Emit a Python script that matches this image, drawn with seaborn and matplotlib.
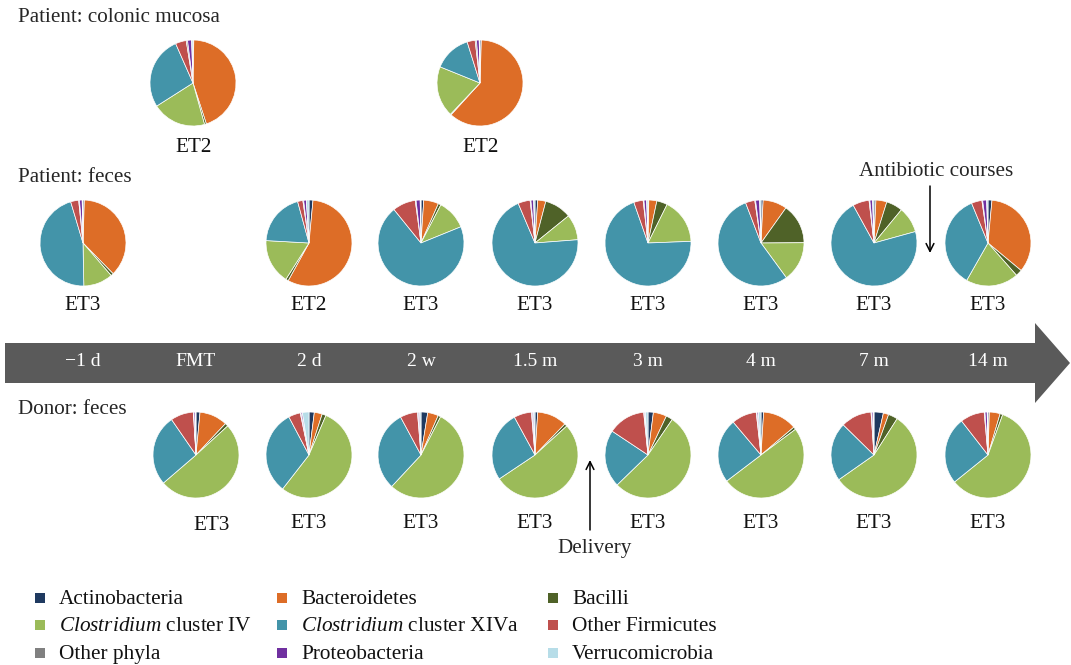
import numpy as np
import pandas as pd
import matplotlib
matplotlib.use("Agg")
import matplotlib.pyplot as plt
import seaborn as sns
from matplotlib.patches import Polygon, Rectangle

# ---------------- data ----------------
groups = ["Actinobacteria", "Bacteroidetes", "Bacilli",
          "Clostridium cluster IV", "Clostridium cluster XIVa",
          "Other Firmicutes", "Other phyla", "Proteobacteria", "Verrucomicrobia"]
legend_labels = ["Actinobacteria", "Bacteroidetes", "Bacilli",
                 r"$\mathit{Clostridium}$ cluster IV",
                 r"$\mathit{Clostridium}$ cluster XIVa",
                 "Other Firmicutes", "Other phyla", "Proteobacteria", "Verrucomicrobia"]
timepoints = ["\u22121 d", "FMT", "2 d", "2 w", "1.5 m", "3 m", "4 m", "7 m", "14 m"]

# Patient: colonic mucosa (two biopsies)
mucosa_labels = ["ET2", "ET2"]
mucosa_a = [0.3, 44, 0.7, 20, 27, 4, 0.5, 1.5, 0.5]
mucosa_b = [0.5, 61, 0.3, 19, 14, 3, 0.5, 1.0, 0.3]

# Patient: feces
patient_times = ["\u22121 d", "2 d", "2 w", "1.5 m", "3 m", "4 m", "7 m", "14 m"]
patient_labels = ["ET3", "ET2", "ET3", "ET3", "ET3", "ET3", "ET3", "ET3"]
p_m1d = [0.5, 37, 1, 11, 45.5, 3, 0.3, 1.0, 0.3]
p_2d = [1.5, 57, 1, 17, 20, 2, 0.3, 1.0, 1.0]
p_2w = [1.0, 5.5, 1, 11, 69, 8.5, 0.3, 1.5, 0.3]
p_15m = [1.0, 3, 10, 9.5, 69, 4.5, 0.3, 1.0, 0.5]
p_3m = [0.3, 3, 4, 17, 70, 3.5, 0.3, 1.0, 0.5]
p_4m = [0.8, 9, 15, 15, 54, 3.5, 0.3, 1.5, 0.5]
p_7m = [0.7, 4, 6, 9.5, 69.5, 6, 0.3, 1.0, 0.5]
p_14m = [1.5, 35, 2.5, 20, 36, 4, 0.3, 1.5, 0.5]

# Donor: feces
donor_times = ["FMT", "2 d", "2 w", "1.5 m", "3 m", "4 m", "7 m", "14 m"]
donor_labels = ["ET3"] * 8
d_fmt = [1.5, 10.5, 1.2, 50.5, 26.7, 8.6, 0.2, 0.5, 0.3]
d_2d = [2.0, 3, 1.5, 54.5, 32, 4.5, 0.3, 0.5, 2.5]
d_2w = [2.5, 4, 1.0, 54, 30, 6.5, 0.3, 0.5, 0.5]
d_15m = [1.0, 11, 1.0, 51.5, 26, 6.5, 0.3, 0.5, 0.5]
d_3m = [2.0, 5, 2.5, 53, 21.5, 14, 0.3, 0.3, 1.0]
d_4m = [1.0, 13, 1.0, 50.5, 24.5, 9.5, 0.3, 0.5, 1.0]
d_7m = [3.5, 2, 3.5, 56, 22, 11.5, 0.3, 0.5, 0.3]
d_14m = [0.5, 4, 1.0, 58, 25, 9, 0.3, 0.8, 0.3]

patient_vals = [p_m1d, p_2d, p_2w, p_15m, p_3m, p_4m, p_7m, p_14m]
donor_vals = [d_fmt, d_2d, d_2w, d_15m, d_3m, d_4m, d_7m, d_14m]

# ---------------- style ----------------
sns.set_theme(style="white")
plt.rcParams["font.family"] = ["Liberation Serif", "DejaVu Serif"]
plt.rcParams["mathtext.fontset"] = "custom"
plt.rcParams["mathtext.rm"] = "Liberation Serif"
plt.rcParams["mathtext.it"] = "Liberation Serif:italic"

colors = sns.color_palette(["#1f3a60", "#dd6d27", "#4f6228", "#9bbb59", "#4394a9",
                            "#bf504d", "#808080", "#7030a0", "#b7dde8"])
palette = dict(zip(groups, colors))

W, H = 1071, 665
fig = plt.figure(figsize=(W / 100, H / 100), dpi=100)
ax = fig.add_axes([0, 0, 1, 1])

def Y(y):
    return H - y

# layout (pixel positions)
time_x = dict(zip(timepoints, [83, 196, 309, 421, 535, 648, 761, 874, 988]))
R = 43
mucosa_x = [193, 480]
row_mucosa_y, row_patient_y, row_donor_y = 83, 243, 455
FS = 15.2

def draw_pie(vals, cx, cy, label, lx=None, ly=None):
    df = pd.DataFrame({"group": groups, "value": vals})
    ax.pie(df["value"], colors=[palette[g] for g in df["group"]],
           startangle=90, counterclock=False, center=(cx, Y(cy)), radius=R,
           wedgeprops=dict(linewidth=0.5, edgecolor="white"), frame=True)
    ax.text(cx if lx is None else lx, Y(ly), label,
            ha="center", va="center", fontsize=FS, color="#111111")

# mucosa
for vals, x, lab in zip([mucosa_a, mucosa_b], mucosa_x, mucosa_labels):
    draw_pie(vals, x, row_mucosa_y, lab, lx=x + 1, ly=147)

# patient feces
for vals, t, lab in zip(patient_vals, patient_times, patient_labels):
    draw_pie(vals, time_x[t], row_patient_y, lab, ly=306)

# donor feces
for vals, t, lab in zip(donor_vals, donor_times, donor_labels):
    x = time_x[t]
    lx = 212 if t == "FMT" else x
    ly = 526 if t == "FMT" else 524
    draw_pie(vals, x, row_donor_y, lab, lx=lx, ly=ly)

# timeline arrow
arrow_pts = [(5, 343), (1035, 343), (1035, 323), (1070, 363),
             (1035, 403), (1035, 383), (5, 383)]
ax.add_patch(Polygon([(x, Y(y)) for x, y in arrow_pts], closed=True,
                     facecolor="#5a5a5a", edgecolor="none"))
for t in timepoints:
    ax.text(time_x[t], Y(362), t, ha="center", va="center", color="white",
            fontsize=14)

# section titles
ax.text(18, Y(18), "Patient: colonic mucosa", ha="left", va="center", fontsize=FS)
ax.text(18, Y(178), "Patient: feces", ha="left", va="center", fontsize=FS)
ax.text(18, Y(409), "Donor: feces", ha="left", va="center", fontsize=FS)

# annotations
ax.text(936, Y(172), "Antibiotic courses", ha="center", va="center", fontsize=FS)
ax.annotate("", xy=(930, Y(253)), xytext=(930, Y(186)),
            arrowprops=dict(arrowstyle="->", lw=1.1, color="black",
                            shrinkA=0, shrinkB=0, mutation_scale=14))
ax.text(595, Y(548), "Delivery", ha="center", va="center", fontsize=FS)
ax.annotate("", xy=(590, Y(460)), xytext=(590, Y(530)),
            arrowprops=dict(arrowstyle="->", lw=1.1, color="black",
                            shrinkA=0, shrinkB=0, mutation_scale=14))

# legend (3 x 3 grid)
leg_x = [35, 277, 548]
leg_y = [598, 625, 653]
for i, (g, lab) in enumerate(zip(groups, legend_labels)):
    col, row = i % 3, i // 3
    x0, y0 = leg_x[col], leg_y[row]
    ax.add_patch(Rectangle((x0, Y(y0) - 5), 10, 10, facecolor=palette[g],
                           edgecolor="none"))
    ax.text(x0 + 24, Y(y0 + 6), lab, ha="left", va="baseline", fontsize=15.3,
            color="#111111")

ax.set_xlim(0, W)
ax.set_ylim(0, H)
ax.set_aspect("auto")
ax.set_axis_off()

fig.savefig("out.png", dpi=100)
